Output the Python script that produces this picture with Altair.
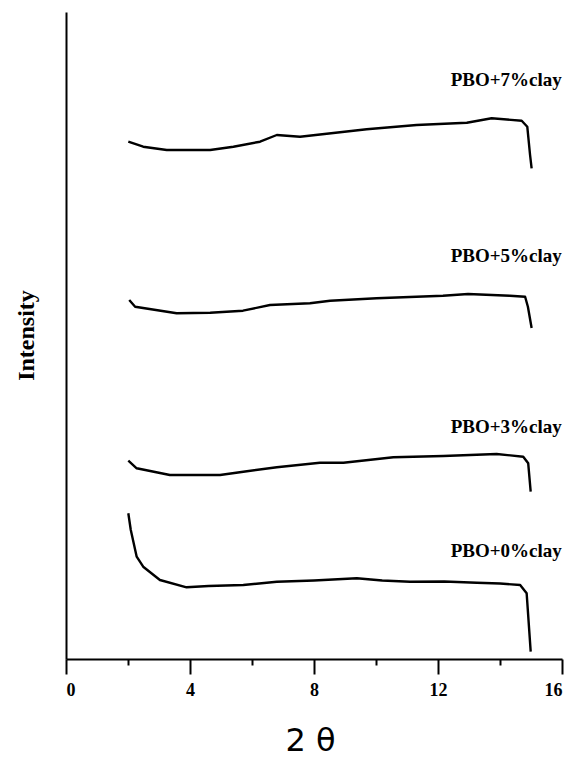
import altair as alt
import pandas as pd

# 2-theta positions and intensities (arbitrary units)
x_0 = [2.01, 2.09, 2.28, 2.49, 3.03, 3.89, 4.6, 5.72, 6.8, 8.0, 9.38, 10.2, 11.1, 12.2, 13.25, 14.0, 14.65, 14.86, 14.99]
y_0 = [145.7, 129, 102.3, 92.3, 79, 71.7, 73, 74, 77.3, 78.5, 80.7, 78.5, 77.3, 77.5, 76.3, 75.5, 74, 65.7, 7.3]

x_3 = [2.01, 2.28, 3.35, 4.97, 5.72, 6.8, 8.19, 8.95, 10.56, 12.17, 13.89, 14.75, 14.91, 14.99]
y_3 = [198.3, 190.7, 184, 184, 187.3, 191.7, 196.3, 196.3, 201.7, 203, 205, 202.3, 195.7, 167.3]

x_5 = [2.04, 2.23, 3.57, 4.65, 5.71, 6.58, 7.87, 8.52, 10.02, 12.16, 12.97, 14.32, 14.81, 14.9, 15.02]
y_5 = [359, 352.3, 345.7, 346.3, 348.3, 354, 355.7, 358.3, 360.7, 363.3, 365, 363.3, 362.3, 352.3, 331]

x_7 = [2.01, 2.49, 3.25, 4.65, 5.4, 6.26, 6.8, 7.55, 9.7, 11.31, 12.93, 13.73, 14.7, 14.88, 14.97, 15.02]
y_7 = [517.3, 512.3, 509, 509, 512.3, 517.3, 524, 522.3, 529.7, 534, 536.3, 540.7, 538.3, 532.3, 504, 490.7]

series_names = ["PBO+0%clay", "PBO+3%clay", "PBO+5%clay", "PBO+7%clay"]
label_x = [14.2, 14.2, 14.2, 14.2]
label_y = [108, 232, 403, 579]

x_tick_values = list(range(0, 17))

rows = []
for name, xs, ys in zip(series_names, [x_0, x_3, x_5, x_7], [y_0, y_3, y_5, y_7]):
    for i, (a, b) in enumerate(zip(xs, ys)):
        rows.append({"series": name, "two_theta": a, "intensity": b, "idx": i})
df = pd.DataFrame(rows)

labels_df = pd.DataFrame({"series": series_names, "two_theta": label_x, "intensity": label_y})

x_scale = alt.Scale(domain=[0, 16], nice=False, zero=False)
y_scale = alt.Scale(domain=[0, 647], nice=False, zero=False)

lines = alt.Chart(df).mark_line(color="black", strokeWidth=2.4, strokeJoin="round").encode(
    x=alt.X("two_theta:Q", scale=x_scale,
            axis=alt.Axis(values=x_tick_values, title="2 θ", grid=False,
                          tickSize={"condition": {"test": "datum.value % 4 === 0", "value": 15}, "value": 6},
                          labelExpr="datum.value % 4 === 0 ? datum.label : ''",
                          tickColor="black", tickWidth=2, domainColor="black", domainWidth=2,
                          labelFont="Liberation Serif", labelFontWeight="bold", labelFontSize=18,
                          labelColor="black", labelPadding=16, labelBaseline="middle",
                          titleFont="DejaVu Sans", titleFontSize=32, titleFontWeight="normal",
                          titleColor="black", titleX=244, titleY=81, titleBaseline="middle")),
    y=alt.Y("intensity:Q", scale=y_scale,
            axis=alt.Axis(title="Intensity", ticks=False, labels=False, grid=False,
                          domainColor="black", domainWidth=2,
                          titleFont="Liberation Serif", titleFontWeight="bold", titleFontSize=24,
                          titleColor="black", titleAngle=-90, titleX=-40, titleY=323,
                          titleAlign="center", titleBaseline="middle")),
    detail="series:N",
    order="idx:Q",
)

texts = alt.Chart(labels_df).mark_text(
    font="Liberation Serif", fontWeight="bold", fontSize=19, color="black", align="center", baseline="middle"
).encode(
    x=alt.X("two_theta:Q", scale=x_scale),
    y=alt.Y("intensity:Q", scale=y_scale),
    text="series:N",
)

chart = alt.layer(lines, texts).properties(
    width=496, height=647,
    autosize=alt.AutoSizeParams(type="none"),
    padding={"left": 66, "top": 12, "right": 11, "bottom": 98},
    background="white",
).configure_view(stroke=None)

chart.save("out.html", embed_options={"renderer": "svg", "actions": False})
